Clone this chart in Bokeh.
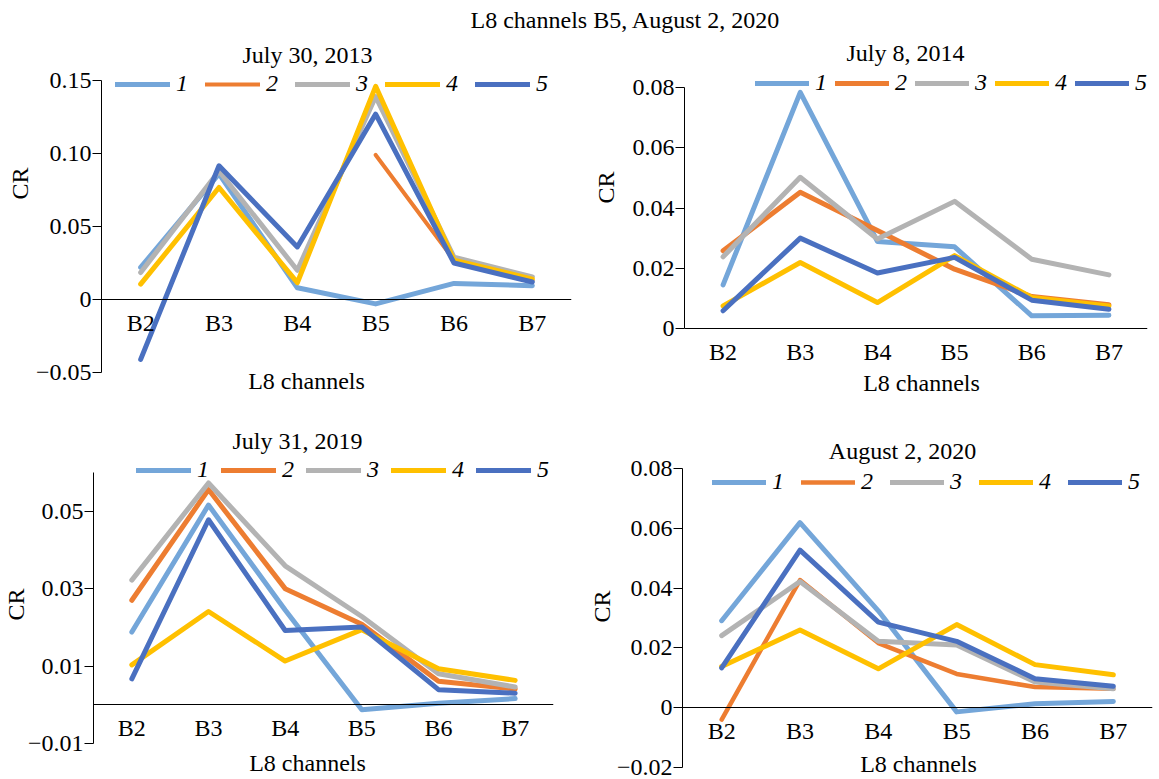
import math
from bokeh.plotting import figure
from bokeh.models import (FactorRange, Range1d, FixedTicker, Legend, LegendItem, Label, Title)
from bokeh.layouts import column, row
from bokeh.embed import file_html
from bokeh.resources import INLINE

NaN = float("nan")

# ---------------- data ----------------
channels = ["B2", "B3", "B4", "B5", "B6", "B7"]
series_names = ["1", "2", "3", "4", "5"]
colors = ["#74A6D9", "#ED7D31", "#B3B3B3", "#FFC000", "#4A70C0"]

main_title = "L8 channels B5, August 2, 2020"
x_label = "L8 channels"
y_label = "CR"

date_2013 = "July 30, 2013"
date_2014 = "July 8, 2014"
date_2019 = "July 31, 2019"
date_2020 = "August 2, 2020"

# July 30, 2013
cr2013_1 = [0.022, 0.086, 0.008, -0.003, 0.011, 0.0095]
cr2013_2 = [NaN, NaN, NaN, 0.099, 0.027, 0.013]
cr2013_3 = [0.0185, 0.088, 0.020, 0.139, 0.029, 0.0155]
cr2013_4 = [0.0105, 0.0767, 0.0115, 0.146, 0.027, 0.014]
cr2013_5 = [-0.041, 0.0916, 0.036, 0.127, 0.025, 0.012]

# July 8, 2014
cr2014_1 = [0.0145, 0.0784, 0.0289, 0.0271, 0.0042, 0.0044]
cr2014_2 = [0.0258, 0.0452, 0.0325, 0.0197, 0.0106, 0.0079]
cr2014_3 = [0.0238, 0.0502, 0.0297, 0.0422, 0.0230, 0.0178]
cr2014_4 = [0.0075, 0.0219, 0.0086, 0.0242, 0.0103, 0.0075]
cr2014_5 = [0.0059, 0.0300, 0.0184, 0.0236, 0.0094, 0.0064]

# July 31, 2019
cr2019_1 = [0.0188, 0.0516, 0.0245, -0.0013, 0.0004, 0.0016]
cr2019_2 = [0.0270, 0.0556, 0.0300, 0.0208, 0.0061, 0.0041]
cr2019_3 = [0.0322, 0.0573, 0.0359, 0.0228, 0.0080, 0.0046]
cr2019_4 = [0.0103, 0.0241, 0.0113, 0.0194, 0.0093, 0.0063]
cr2019_5 = [0.0067, 0.0478, 0.0192, 0.0201, 0.0039, 0.0030]

# August 2, 2020
cr2020_1 = [0.0291, 0.0619, 0.0324, -0.0014, 0.0013, 0.0021]
cr2020_2 = [-0.0040, 0.0427, 0.0216, 0.0113, 0.0069, 0.0063]
cr2020_3 = [0.0241, 0.0422, 0.0222, 0.0210, 0.0086, 0.0063]
cr2020_4 = [0.0138, 0.0260, 0.0130, 0.0278, 0.0144, 0.0110]
cr2020_5 = [0.0133, 0.0527, 0.0286, 0.0222, 0.0097, 0.0072]

# y axes (tick values, tick labels, axis extent)
yticks_2013 = [-0.05, 0, 0.05, 0.10, 0.15]
ylabels_2013 = ["\u22120.05", "0", "0.05", "0.10", "0.15"]
ybounds_2013 = (-0.05, 0.15)

yticks_2014 = [0, 0.02, 0.04, 0.06, 0.08]
ylabels_2014 = ["0", "0.02", "0.04", "0.06", "0.08"]
ybounds_2014 = (0, 0.08)

yticks_2019 = [-0.01, 0.01, 0.03, 0.05]
ylabels_2019 = ["\u22120.01", "0.01", "0.03", "0.05"]
ybounds_2019 = (-0.01, 0.06)

yticks_2020 = [-0.02, 0, 0.02, 0.04, 0.06, 0.08]
ylabels_2020 = ["\u22120.02", "0", "0.02", "0.04", "0.06", "0.08"]
ybounds_2020 = (-0.02, 0.08)

# ---------------- styling / layout ----------------
FONT = "Liberation Serif"
FS_PX = 24
FS = f"{FS_PX}px"


def make_panel(title, series, ybounds, yticks, ylabels, g):
    ox, oy, w, h = g["box"]
    fl, fr = g["frame_x"]
    py_lo, py_hi = g["axis_px"]          # pixel rows of the axis ends
    lo, hi = ybounds
    k = (py_lo - py_hi) / (hi - lo)       # px per unit
    y_end = hi + (py_hi - oy) / k
    y_start = lo - (oy + h - py_lo) / k
    fbottom = oy + h

    def scr(pt):
        return pt[0] - fl, fbottom - pt[1]

    p = figure(width=w, height=h,
               x_range=FactorRange(*channels, range_padding=0),
               y_range=Range1d(y_start, y_end),
               output_backend="svg", toolbar_location=None, title_location=None,
               min_border_left=fl - ox, min_border_right=ox + w - fr,
               min_border_top=0, min_border_bottom=0)
    p.outline_line_color = None
    p.grid.visible = False
    p.background_fill_color = "white"
    p.border_fill_color = "white"

    xa = p.xaxis[0]
    xa.fixed_location = 0
    xa.axis_line_color = "black"
    xa.axis_line_width = 1
    xa.major_tick_line_color = None
    xa.minor_tick_line_color = None
    xa.major_tick_out = 0
    xa.major_tick_in = 0
    xa.major_label_standoff = 10
    xa.major_label_text_font = FONT
    xa.major_label_text_font_size = FS
    xa.major_label_text_color = "black"

    ya = p.yaxis[0]
    ya.bounds = ybounds
    ya.ticker = FixedTicker(ticks=yticks)
    ya.major_label_overrides = dict(zip(yticks, ylabels))
    ya.axis_line_color = "black"
    ya.major_tick_line_color = "black"
    ya.major_tick_out = 9
    ya.major_tick_in = 0
    ya.minor_tick_line_color = None
    ya.major_label_standoff = 1
    ya.major_label_text_font = FONT
    ya.major_label_text_font_size = FS
    ya.major_label_text_color = "black"

    items = []
    for s, c, n in zip(series, colors, series_names):
        lw = g.get("lw", {}).get(n, 5)
        r = p.line(channels, s, line_color=c, line_width=lw,
                   line_cap="round", line_join="round")
        items.append(LegendItem(label=n, renderers=[r]))

    lx, lcy = g["leg"]
    leg = Legend(items=items, orientation="horizontal",
                 location=(lx - fl, fbottom - (lcy + 14)),
                 glyph_width=g["gw"], glyph_height=20, label_height=20,
                 label_width=11, label_standoff=6, spacing=g["sp"],
                 padding=0, margin=0,
                 border_line_color=None, background_fill_alpha=0,
                 label_text_font=FONT, label_text_font_size=FS,
                 label_text_font_style="italic", label_text_color="black")
    p.add_layout(leg)

    def lab(text, pt):
        sx, sy = scr(pt)
        return Label(x=sx, y=sy, x_units="screen", y_units="screen",
                     text=text, text_align="center",
                     text_baseline="middle", text_font=FONT,
                     text_font_size=FS, text_color="black")

    p.add_layout(lab(title, g["title"]))
    p.add_layout(lab(x_label, g["xl"]))

    half_len = 1.333 * FS_PX / 2
    t = Title(text=y_label, align="left", offset=fbottom - (g["yl_y"] + half_len),
              text_font=FONT, text_font_size=FS, text_font_style="normal",
              text_color="black")
    try:
        t.standoff = g.get("yl_standoff", 0)
    except Exception:
        pass
    p.add_layout(t, "left")
    return p


g2013 = dict(box=(0, 36, 580, 364), frame_x=(101, 571), axis_px=(372, 80),
             leg=(115, 83), gw=55, sp=17, lw={"2": 4},
             title=(307, 54), xl=(306, 380), yl_y=183, yl_standoff=0)
g2014 = dict(box=(580, 36, 579, 364), frame_x=(681, 1147), axis_px=(328, 87),
             leg=(752, 82), gw=54, sp=8,
             title=(902, 52), xl=(918, 382), yl_y=187, yl_standoff=21)
g2019 = dict(box=(0, 400, 580, 379), frame_x=(93, 553), axis_px=(743, 472),
             leg=(136, 469), gw=55, sp=12,
             title=(297, 440), xl=(307, 762), yl_y=604, yl_standoff=-8)
g2020 = dict(box=(580, 400, 579, 379), frame_x=(682, 1152), axis_px=(767, 468),
             leg=(712, 481), gw=54, sp=17, lw={"2": 4.5},
             title=(902, 450), xl=(918, 763), yl_y=606, yl_standoff=-2)

p1 = make_panel(date_2013, [cr2013_1, cr2013_2, cr2013_3, cr2013_4, cr2013_5],
                ybounds_2013, yticks_2013, ylabels_2013, g2013)
p2 = make_panel(date_2014, [cr2014_1, cr2014_2, cr2014_3, cr2014_4, cr2014_5],
                ybounds_2014, yticks_2014, ylabels_2014, g2014)
p3 = make_panel(date_2019, [cr2019_1, cr2019_2, cr2019_3, cr2019_4, cr2019_5],
                ybounds_2019, yticks_2019, ylabels_2019, g2019)
p4 = make_panel(date_2020, [cr2020_1, cr2020_2, cr2020_3, cr2020_4, cr2020_5],
                ybounds_2020, yticks_2020, ylabels_2020, g2020)

pt = figure(width=1159, height=36, x_axis_type=None, y_axis_type=None,
            output_backend="svg", toolbar_location=None, min_border=0,
            title_location=None, x_range=Range1d(0, 1), y_range=Range1d(0, 1))
pt.outline_line_color = None
pt.grid.visible = False
pt.add_layout(Label(x=625, y=17, x_units="screen", y_units="screen", text=main_title,
                    text_align="center", text_baseline="middle", text_font=FONT,
                    text_font_size=FS, text_color="black"))

layout = column(pt, row(p1, p2), row(p3, p4))

with open("out.html", "w") as f:
    f.write(file_html(layout, INLINE))
